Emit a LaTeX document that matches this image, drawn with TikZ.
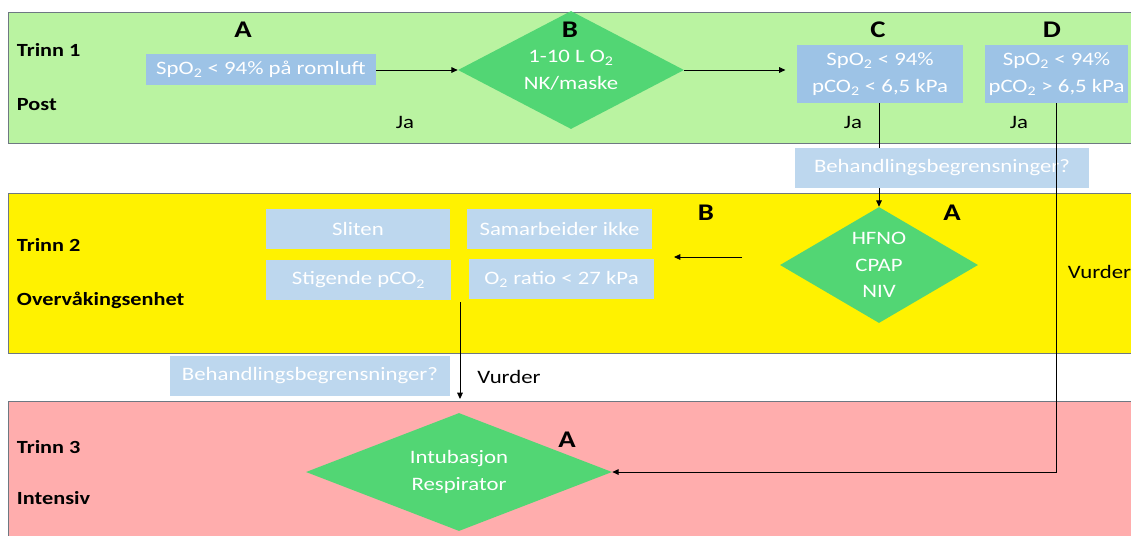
\documentclass[tikz,border=0pt]{standalone}
\usepackage{fontspec}
\setmainfont[FakeStretch=1.2]{Carlito}
\usetikzlibrary{shapes.geometric,arrows.meta}

\definecolor{postgreen}{RGB}{186,243,161}
\definecolor{diagreen}{RGB}{82,214,116}
\definecolor{boxblue}{RGB}{157,195,230}
\definecolor{paleblue}{RGB}{189,215,238}
\definecolor{icupink}{RGB}{255,173,173}
\definecolor{bandline}{RGB}{110,120,130}

\begin{document}
\begin{tikzpicture}[x=0.025cm, y=-0.025cm,
    stage/.style={font=\fontsize{13.2}{15}\selectfont\bfseries, anchor=west},
    letter/.style={font=\fontsize{17}{19}\selectfont\bfseries},
    plain/.style={font=\fontsize{13.5}{15}\selectfont},
    crit/.style={fill=boxblue, text=white, inner sep=0pt, align=center,
        font=\fontsize{13.5}{19}\selectfont},
    soft/.style={crit, fill=paleblue},
    act/.style={diamond, fill=diagreen, inner sep=0pt},
    acttext/.style={text=white, align=center, font=\fontsize{13.5}{19}\selectfont},
    flow/.style={-{Triangle[length=4.5pt,width=4pt]}, line width=0.6pt}]
    % Frame
    \useasboundingbox (0,0) rectangle (1131,535);
    \clip (0,0) rectangle (1131,535);
    % Draw bands
    \draw [bandline, fill=postgreen] (8,12) rectangle (1145,143);
    \draw [bandline, fill=yellow] (8,193) rectangle (1145,353);
    \draw [bandline, fill=icupink] (8,401) rectangle (1145,550);
    \node [stage] (t1) at (12,50) {Trinn 1};
    \node [stage] (p1) at (12,105) {Post};
    \node [stage] (t2) at (12,245) {Trinn 2};
    \node [stage] (p2) at (12,300) {Overvåkingsenhet};
    \node [stage] (t3) at (12,447) {Trinn 3};
    \node [stage] (p3) at (12,498) {Intensiv};
    % Trinn 1
    \node [crit, minimum width=5.75cm, minimum height=0.78cm] (romluft) at (261,69.5)
        {SpO\textsubscript{2} < 94\% på romluft};
    \node [act, minimum width=5.65cm, minimum height=2.95cm] (okstyr) at (571,70) {};
    \node [acttext] (okstyrtx) at (okstyr.center) {1-10 L O\textsubscript{2}\\NK/maske};
    \node [crit, minimum width=4.15cm, minimum height=1.45cm] (lavco) at (880,74)
        {SpO\textsubscript{2} < 94\%\\pCO\textsubscript{2} < 6,5 kPa};
    \node [crit, minimum width=3.575cm, minimum height=1.45cm] (hoyco) at (1056.5,74)
        {SpO\textsubscript{2} < 94\%\\pCO\textsubscript{2} > 6,5 kPa};
    \node [letter] (la1) at (243,30) {A};
    \node [letter] (lb1) at (570,30) {B};
    \node [letter] (lc1) at (878,30) {C};
    \node [letter] (ld1) at (1052,30) {D};
    \node [plain] (ja1) at (405,122) {Ja};
    \node [plain] (ja2) at (853,122) {Ja};
    \node [plain] (ja3) at (1019,122) {Ja};
    \node [soft, minimum width=7.35cm, minimum height=1.0cm] (begr1) at (942,168)
        {Behandlingsbegrensninger?};
    % Trinn 2
    \node [act, minimum width=4.95cm, minimum height=2.9cm] (ventil) at (879,265) {};
    \node [acttext] (ventiltx) at (ventil.center) {HFNO\\CPAP\\NIV};
    \node [soft, minimum width=4.6cm, minimum height=1.0cm] (sliten) at (358,229) {Sliten};
    \node [soft, minimum width=4.625cm, minimum height=1.0cm] (samarb) at (559.5,229) {Samarbeider ikke};
    \node [soft, minimum width=4.625cm, minimum height=1.0cm] (stigco) at (358.5,280)
        {Stigende pCO\textsubscript{2}};
    \node [soft, minimum width=4.625cm, minimum height=1.0cm] (oratio) at (561.5,279)
        {O\textsubscript{2} ratio < 27 kPa};
    \node [letter] (lb2) at (706,213) {B};
    \node [letter] (la2) at (952,213) {A};
    \node [plain, anchor=west] (vurd1) at (1063,272) {Vurder};
    \node [soft, minimum width=7.0cm, minimum height=1.0cm] (begr2) at (310,376)
        {Behandlingsbegrensninger?};
    \node [plain] (vurd2) at (509,377) {Vurder};
    % Trinn 3
    \node [act, minimum width=7.65cm, minimum height=2.95cm] (intub) at (459,472) {};
    \node [acttext] (intubtx) at (intub.center) {Intubasjon\\Respirator};
    \node [letter] (la3) at (567,440) {A};
    % Connectors
    \coordinate (tilb) at (742,257);
    \coordinate (fraB) at (674,257);
    \coordinate (stigut) at (460,302);
    \coordinate (inntre) at (460,399);
    \coordinate (hjorne) at (hoyco.south |- intub.east);
    \draw [flow] (romluft.east |- okstyr.west) -- (okstyr.west);
    \draw [flow] (okstyr.east) -- ([xshift=-8]okstyr.east -| lavco.west);
    \draw [line width=0.6pt] (lavco.south -| ventil.north) -- (begr1.north -| ventil.north);
    \draw [flow] (begr1.south -| ventil.north) -- (ventil.north);
    \draw [flow] (tilb) -- (fraB);
    \draw [flow] (stigut) -- (inntre);
    \draw [flow] (hoyco.south) -- (hjorne) -- (intub.east);
\end{tikzpicture}
\end{document}
